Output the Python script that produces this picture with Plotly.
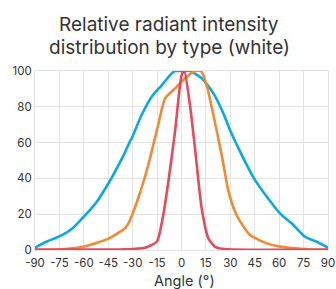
import plotly.graph_objects as go

# Wide type (blue)
wide_angle = [-90, -83, -74, -66.5, -60, -52, -44.4, -37.8, -35, -32, -30.6, -24.5, -18.3, -12.2, -6, -4, 0, 5, 12.4, 19.6, 25.7, 29.8, 36, 45.2, 52.4, 60.5, 68.7, 75.9, 83.1, 90]
wide_val = [1.3, 4.6, 8, 12.5, 18.6, 27, 38, 49, 54, 60, 62.4, 75.4, 85.6, 92, 98.7, 100, 100, 100, 96, 87.5, 76.4, 67, 55, 39, 29.8, 20.5, 14, 7.4, 4.6, 1.3]

# Standard type (orange)
std_angle = [-90, -72.7, -59.8, -44.4, -37.8, -34.7, -32, -26.6, -20.4, -14.3, -10.1, -4, 2.2, 8.3, 12, 15.5, 19.6, 24.7, 28.8, 32.9, 36, 42.1, 52.4, 60.5, 74.9, 90]
std_val = [0, 0.4, 1.9, 6.5, 10.2, 12.1, 16, 28.9, 47.5, 70, 84.7, 90.3, 96, 100, 100, 92, 75.4, 53, 33, 21.4, 16, 8.4, 3.7, 1.9, 0.6, 0]

# Narrow type (red)
nar_angle = [-90, -34.7, -22.4, -15.2, -11.2, -8.1, -4, 0.1, 1.7, 5.2, 8.3, 12.4, 16.5, 20.6, 26.7, 90]
nar_val = [0.3, 0.4, 1.3, 4.6, 19.6, 38, 66, 97.8, 100, 81, 56.8, 23.3, 6.5, 1.8, 0.5, 0.3]

x_ticks = [-90, -75, -60, -45, -30, -15, 0, 15, 30, 45, 60, 75, 90]
y_ticks = [0, 20, 40, 60, 80, 100]

title_lines = ["Relative radiant intensity", "distribution by type (white)"]
x_title = "Angle (°)"

fig = go.Figure()
lw = 2.6
fig.add_trace(go.Scatter(x=wide_angle, y=wide_val, mode="lines",
                         line=dict(color="#0aa9e2", width=lw, shape="spline", smoothing=0.6)))
fig.add_trace(go.Scatter(x=std_angle, y=std_val, mode="lines",
                         line=dict(color="#f28a33", width=lw, shape="spline", smoothing=0.6)))
fig.add_trace(go.Scatter(x=nar_angle, y=nar_val, mode="lines",
                         line=dict(color="#e8495c", width=lw, shape="spline", smoothing=0.6)))

W, H = 336, 289
ml, mr, mt, mb = 35, 8, 71, 39
ph = H - mt - mb
pw = W - ml - mr

fig.update_layout(
    width=W, height=H,
    margin=dict(l=ml, r=mr, t=mt, b=mb, autoexpand=False),
    paper_bgcolor="white", plot_bgcolor="white",
    showlegend=False,
    font=dict(family="Inter, Roboto, sans-serif", color="#333333"),
)
for txt, cy in zip(title_lines, [25, 48]):
    fig.add_annotation(text=txt, xref="paper", yref="paper",
                       x=(169 - ml) / pw, y=1 + (mt - cy) / ph,
                       xanchor="center", yanchor="middle", showarrow=False,
                       font=dict(size=19, color="#333333"))
fig.add_annotation(text=x_title, xref="paper", yref="paper",
                   x=(184 - ml) / pw, y=-(281 - (H - mb)) / ph,
                   xanchor="center", yanchor="middle", showarrow=False,
                   font=dict(size=14.5, color="#333333"))

fig.update_xaxes(range=[-90, 90], tickvals=x_ticks, ticktext=[str(v) for v in x_ticks],
                 showgrid=True, gridcolor="#e3e3e3", gridwidth=1,
                 showline=True, linecolor="#e3e3e3", mirror=True, zeroline=False,
                 tickfont=dict(size=11.5, color="#333333"), ticks="", ticklabelstandoff=2)
fig.update_yaxes(range=[0, 100], tickvals=y_ticks,
                 showgrid=True, gridcolor="#e3e3e3", gridwidth=1,
                 showline=True, linecolor="#e3e3e3", mirror=True, zeroline=False,
                 tickfont=dict(size=11.5, color="#333333"), ticks="")

fig.write_html("out.html", config={"displayModeBar": False},
               post_script="document.body.style.margin='0';")
